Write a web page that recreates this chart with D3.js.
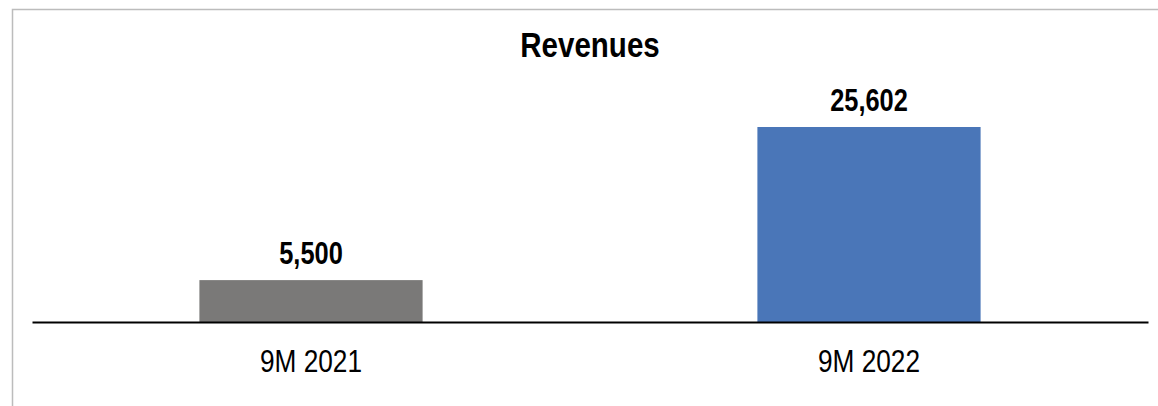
<!DOCTYPE html>
<html lang="en-US">
  <head>
    <meta charset="utf-8">
    <style>
      body { margin: 0; background: #fff; }
      text { font-family: "Liberation Sans Narrow", "Liberation Sans", Arial, sans-serif; }
    </style>
  </head>
  <body>
    <div id="chart"></div>
    <script src="https://cdnjs.cloudflare.com/ajax/libs/d3/7.8.5/d3.min.js"></script>
    <script>
      var WIDTH = 1158;
      var HEIGHT = 406;
      // no narrow font installed, so squeeze the regular one horizontally
      var NARROW = 'scale(0.82,1)';

      // data
      var periods = ['9M 2021', '9M 2022'];
      var revenues = [5500, 25602];
      var barColors = ['#7a7978', '#4a76b8'];

      var svg = d3.select('#chart').append('svg')
        .attr('width', WIDTH)
        .attr('height', HEIGHT);

      // chart frame (only top and left edges are visible)
      svg.append('path')
        .attr('d', 'M12.5,' + HEIGHT + 'V9.5H' + WIDTH)
        .attr('fill', 'none')
        .attr('stroke', '#bcbcbc')
        .attr('stroke-width', 1.5);

      var x = d3.scaleBand()
        .domain(periods)
        .range([32, 1148])
        .paddingInner(0.6)
        .paddingOuter(0.3);

      var y = d3.scaleLinear()
        .domain([0, 25602])
        .range([322, 127]);

      svg.append('text')
        .attr('transform', 'translate(590,57) ' + NARROW)
        .attr('text-anchor', 'middle')
        .style('font-size', '36px')
        .style('font-weight', 'bold')
        .text('Revenues');

      svg.selectAll('rect.bar')
        .data(revenues)
        .join('rect')
        .attr('class', 'bar')
        .attr('x', (d, i) => x(periods[i]))
        .attr('width', x.bandwidth())
        .attr('y', d => y(d))
        .attr('height', d => y(0) - y(d))
        .attr('fill', (d, i) => barColors[i]);

      var fmt = d3.format(',');
      svg.selectAll('text.value')
        .data(revenues)
        .join('text')
        .attr('class', 'value')
        .attr('transform', (d, i) => 'translate(' + (x(periods[i]) + x.bandwidth() / 2) + ',' + (y(d) - 16) + ') ' + NARROW)
        .attr('text-anchor', 'middle')
        .style('font-size', '31px')
        .style('font-weight', 'bold')
        .text(d => fmt(d));

      // category axis
      var axis = svg.append('g')
        .attr('transform', 'translate(0,' + y(0) + ')')
        .call(d3.axisBottom(x).tickSize(0).tickPadding(27));
      axis.select('.domain')
        .attr('stroke', '#000')
        .attr('stroke-width', 2);
      axis.selectAll('.tick text')
        .attr('transform', NARROW)
        .style('font-size', '32px')
        .attr('fill', '#000');
    </script>
  </body>
</html>
